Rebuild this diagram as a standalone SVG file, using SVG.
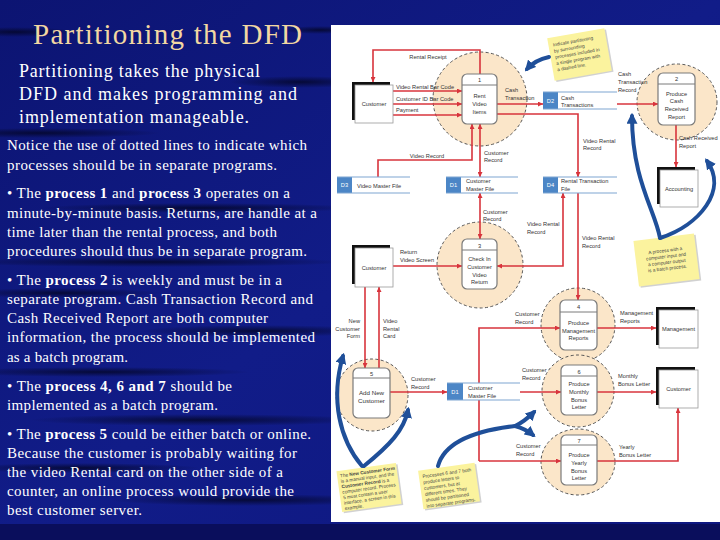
<svg xmlns="http://www.w3.org/2000/svg" width="720" height="540" viewBox="0 0 720 540">
<defs>
  <radialGradient id="streak">
    <stop offset="0" stop-color="#02041f" stop-opacity="0.75"/>
    <stop offset="1" stop-color="#02041f" stop-opacity="0"/>
  </radialGradient>
  <linearGradient id="bgGrad" x1="0" y1="0" x2="1" y2="1">
    <stop offset="0" stop-color="#0c1472"/>
    <stop offset="0.5" stop-color="#111c88"/>
    <stop offset="1" stop-color="#0e1780"/>
  </linearGradient>
  <marker id="ar" viewBox="0 0 10 10" refX="10" refY="5" markerWidth="6" markerHeight="5" markerUnits="userSpaceOnUse" orient="auto-start-reverse">
    <path d="M0,0 L10,5 L0,10 z" fill="#d8343c"/>
  </marker>
  <marker id="bar" viewBox="0 0 10 10" refX="7" refY="5" markerWidth="11" markerHeight="11" markerUnits="userSpaceOnUse" orient="auto">
    <path d="M0,0 L10,5 L0,10 z" fill="#1f4f99"/>
  </marker>
  <style>
    .title{font-family:"Liberation Serif","Times New Roman",serif;font-size:29px;fill:#f2d7a2}
    .sub{font-family:"Liberation Serif","Times New Roman",serif;font-size:18px;fill:#ffffff}
    .body{font-family:"Liberation Serif","Times New Roman",serif;font-size:15px;fill:#ffffff}
    .b{font-weight:bold}
    .part{fill:#fbe6c9;stroke:#555;stroke-width:1;stroke-dasharray:3 2.4}
    .proc{fill:#fff;stroke:#7a7a7a;stroke-width:1.2}
    .hdr{stroke:#7a7a7a;stroke-width:1}
    .lb{font-family:"Liberation Sans",Arial,sans-serif;font-size:5.7px;fill:#333}
    .mid{text-anchor:middle}
    .end{text-anchor:end}
    .conn{fill:none;stroke:#d8343c;stroke-width:1.6}
    .shadow{fill:#111}
    .ent{fill:#fff;stroke:#9a9a9a;stroke-width:0.8}
    .dsl{stroke:#7ea6d2;stroke-width:1.2}
    .dsid{fill:#4c86c6}
    .dst{font-family:"Liberation Sans",Arial,sans-serif;font-size:5.7px;fill:#fff}
    .note{fill:#fbf39e}
    .nsh{fill:#000;opacity:0.18}
    .nt{font-family:"Liberation Sans",Arial,sans-serif;font-size:4.7px;fill:#444}
    .blue{fill:none;stroke:#1f4f99;stroke-width:4;stroke-linecap:round}
  </style>
</defs>

<g id="background">
  <rect x="0" y="0" width="720" height="540" fill="url(#bgGrad)"/>
  <ellipse cx="15" cy="32" rx="60" ry="5" fill="url(#streak)"/>
  <ellipse cx="320" cy="30" rx="40" ry="4" fill="url(#streak)"/>
  <ellipse cx="300" cy="82" rx="70" ry="6" fill="url(#streak)"/>
  <ellipse cx="40" cy="133" rx="120" ry="5" fill="url(#streak)"/>
  <ellipse cx="200" cy="208" rx="160" ry="5" fill="url(#streak)"/>
  <ellipse cx="150" cy="262" rx="200" ry="5" fill="url(#streak)"/>
  <ellipse cx="60" cy="293" rx="100" ry="5" fill="url(#streak)"/>
  <ellipse cx="260" cy="331" rx="120" ry="6" fill="url(#streak)"/>
  <ellipse cx="100" cy="372" rx="150" ry="5" fill="url(#streak)"/>
  <ellipse cx="200" cy="420" rx="170" ry="6" fill="url(#streak)"/>
  <ellipse cx="80" cy="468" rx="120" ry="5" fill="url(#streak)"/>
  <ellipse cx="250" cy="500" rx="140" ry="6" fill="url(#streak)"/>
  <rect x="0" y="524" width="720" height="16" fill="#0a0e5c"/>
</g>

<g id="slide-text">
  <text class="title" x="33" y="44" textLength="269" lengthAdjust="spacing">Partitioning the DFD</text>
  <text class="sub" x="19" y="77" textLength="241" lengthAdjust="spacing">Partitioning takes the physical</text>
  <text class="sub" x="19" y="100" textLength="278" lengthAdjust="spacing">DFD and makes programming and</text>
  <text class="sub" x="19" y="123" textLength="230" lengthAdjust="spacing">implementation manageable.</text>
  <text class="body" x="7" y="150" textLength="300" lengthAdjust="spacing">Notice the use of dotted lines to indicate which</text>
  <text class="body" x="7" y="170" textLength="270" lengthAdjust="spacing">processes should be in separate  programs.</text>

  <text class="body" x="7" y="198" textLength="283" lengthAdjust="spacing">• The <tspan class="b">process 1</tspan> and <tspan class="b">process 3</tspan> operates on a</text>
  <text class="body" x="7" y="218" textLength="310" lengthAdjust="spacing">minute-by-minute basis. Returns, are handle at a</text>
  <text class="body" x="7" y="237" textLength="270" lengthAdjust="spacing">time later than the rental process, and both</text>
  <text class="body" x="7" y="256" textLength="300" lengthAdjust="spacing">procedures should thus be in separate program.</text>

  <text class="body" x="7" y="285" textLength="275" lengthAdjust="spacing">• The <tspan class="b">process 2</tspan> is weekly and must be in a</text>
  <text class="body" x="7" y="304" textLength="306" lengthAdjust="spacing">separate program. Cash Transaction Record and</text>
  <text class="body" x="7" y="323" textLength="261" lengthAdjust="spacing">Cash Received Report are both computer</text>
  <text class="body" x="7" y="342" textLength="308" lengthAdjust="spacing">information, the process should be implemented</text>
  <text class="body" x="7" y="362" textLength="121" lengthAdjust="spacing">as a batch program.</text>

  <text class="body" x="7" y="391" textLength="225" lengthAdjust="spacing">• The <tspan class="b">process 4, 6 and 7</tspan> should be</text>
  <text class="body" x="7" y="410" textLength="211" lengthAdjust="spacing">implemented as a batch program.</text>

  <text class="body" x="7" y="439" textLength="304" lengthAdjust="spacing">• The <tspan class="b">process 5</tspan> could be either batch or online.</text>
  <text class="body" x="7" y="458" textLength="290" lengthAdjust="spacing">Because the customer is probably waiting for</text>
  <text class="body" x="7" y="477" textLength="276" lengthAdjust="spacing">the video Rental card on the other side of a</text>
  <text class="body" x="7" y="496" textLength="287" lengthAdjust="spacing">counter, an online process would provide the</text>
  <text class="body" x="7" y="515" textLength="135" lengthAdjust="spacing">best customer server.</text>
</g>

<g id="panel">
  <rect x="331" y="25" width="389" height="497" fill="#ffffff"/>
</g>

<g id="partitions">
  <circle id="partition-1" class="part" cx="480" cy="99" r="47"/>
  <ellipse id="partition-2" class="part" cx="677" cy="102" rx="40" ry="38"/>
  <circle id="partition-3" class="part" cx="480" cy="265" r="43"/>
  <circle id="partition-4" class="part" cx="578" cy="325" r="37"/>
  <circle id="partition-5" class="part" cx="372" cy="395" r="36"/>
  <circle id="partition-6" class="part" cx="578" cy="391" r="36"/>
  <ellipse id="partition-7" class="part" cx="578" cy="462" rx="37" ry="33"/>
</g>

<g id="connectors">
  <path class="conn" d="M480,74 V50 H373 V82" marker-end="url(#ar)"/>
  <path class="conn" d="M393,91 H462" marker-end="url(#ar)"/>
  <path class="conn" d="M393,104 H462" marker-end="url(#ar)"/>
  <path class="conn" d="M393,115 H462" marker-end="url(#ar)"/>
  <path class="conn" d="M378,177 V160 H472 V124" marker-end="url(#ar)"/>
  <path class="conn" d="M480,124 V177" marker-start="url(#ar)" marker-end="url(#ar)"/>
  <path class="conn" d="M497,104 H543" marker-end="url(#ar)"/>
  <path class="conn" d="M497,114 H578 V177" marker-end="url(#ar)"/>
  <path class="conn" d="M617,104 H658" marker-end="url(#ar)"/>
  <path class="conn" d="M676,125 V167" marker-end="url(#ar)"/>
  <path class="conn" d="M480,193 V239" marker-start="url(#ar)" marker-end="url(#ar)"/>
  <path class="conn" d="M393,266 H462" marker-end="url(#ar)"/>
  <path class="conn" d="M497,266 H563 V193" marker-start="url(#ar)" marker-end="url(#ar)"/>
  <path class="conn" d="M578,193 V300" marker-end="url(#ar)"/>
  <path class="conn" d="M597,328 H656" marker-end="url(#ar)"/>
  <path class="conn" d="M479,461 V328 H560" marker-end="url(#ar)"/>
  <path class="conn" d="M479,461 H561" marker-end="url(#ar)"/>
  <path class="conn" d="M520,392 H561" marker-end="url(#ar)"/>
  <path class="conn" d="M390,392 H447" marker-end="url(#ar)"/>
  <path class="conn" d="M365,287 V368" marker-end="url(#ar)"/>
  <path class="conn" d="M379,368 V287" marker-end="url(#ar)"/>
  <path class="conn" d="M597,392 H656" marker-end="url(#ar)"/>
  <path class="conn" d="M597,461 H678 V408" marker-end="url(#ar)"/>
</g>

<g id="process-1">
  <rect class="proc" x="462" y="74" width="35" height="50" rx="5"/>
  <line class="hdr" x1="462" y1="85" x2="497" y2="85"/>
  <text class="lb mid" x="479.5" y="82">1</text>
  <text class="lb mid" x="479.5" y="98">Rent</text>
  <text class="lb mid" x="479.5" y="106">Video</text>
  <text class="lb mid" x="479.5" y="113.5">Items</text>
</g>
<g id="process-2">
  <rect class="proc" x="658" y="73" width="37" height="52" rx="5"/>
  <line class="hdr" x1="658" y1="84" x2="695" y2="84"/>
  <text class="lb mid" x="676.5" y="81">2</text>
  <text class="lb mid" x="676.5" y="95.5">Produce</text>
  <text class="lb mid" x="676.5" y="103">Cash</text>
  <text class="lb mid" x="676.5" y="111">Received</text>
  <text class="lb mid" x="676.5" y="119">Report</text>
</g>
<g id="process-3">
  <rect class="proc" x="462" y="239" width="35" height="50" rx="5"/>
  <line class="hdr" x1="462" y1="250" x2="497" y2="250"/>
  <text class="lb mid" x="479.5" y="248">3</text>
  <text class="lb mid" x="479.5" y="261">Check In</text>
  <text class="lb mid" x="479.5" y="269">Customer</text>
  <text class="lb mid" x="479.5" y="276.5">Video</text>
  <text class="lb mid" x="479.5" y="284">Return</text>
</g>
<g id="process-4">
  <rect class="proc" x="560" y="300" width="37" height="50" rx="5"/>
  <line class="hdr" x1="560" y1="312" x2="597" y2="312"/>
  <text class="lb mid" x="578.5" y="308.5">4</text>
  <text class="lb mid" x="578.5" y="325">Produce</text>
  <text class="lb mid" x="578.5" y="332.5">Management</text>
  <text class="lb mid" x="578.5" y="340">Reports</text>
</g>
<g id="process-5">
  <rect class="proc" x="353" y="368" width="37" height="50" rx="5"/>
  <line class="hdr" x1="353" y1="378" x2="390" y2="378"/>
  <text class="lb mid" x="371.5" y="375.5">5</text>
  <text class="lb mid" x="371.5" y="395" style="font-size:6.2px">Add New</text>
  <text class="lb mid" x="371.5" y="403" style="font-size:6.2px">Customer</text>
</g>
<g id="process-6">
  <rect class="proc" x="561" y="365" width="36" height="50" rx="5"/>
  <line class="hdr" x1="561" y1="376" x2="597" y2="376"/>
  <text class="lb mid" x="579" y="373.5">6</text>
  <text class="lb mid" x="579" y="386">Produce</text>
  <text class="lb mid" x="579" y="394">Monthly</text>
  <text class="lb mid" x="579" y="401.5">Bonus</text>
  <text class="lb mid" x="579" y="409">Letter</text>
</g>
<g id="process-7">
  <rect class="proc" x="561" y="435" width="36" height="50" rx="5"/>
  <line class="hdr" x1="561" y1="445" x2="597" y2="445"/>
  <text class="lb mid" x="579" y="442.5">7</text>
  <text class="lb mid" x="579" y="457">Produce</text>
  <text class="lb mid" x="579" y="465">Yearly</text>
  <text class="lb mid" x="579" y="472.5">Bonus</text>
  <text class="lb mid" x="579" y="480">Letter</text>
</g>

<g id="store-D3">
  <rect x="337" y="177" width="73" height="16" fill="#fff"/>
  <rect class="dsid" x="337" y="177" width="15" height="16"/>
  <line class="dsl" x1="337" y1="177" x2="410" y2="177"/>
  <line class="dsl" x1="337" y1="193" x2="410" y2="193"/>
  <text class="dst mid" x="344.5" y="187">D3</text>
  <text class="lb" x="357" y="187.5">Video Master File</text>
</g>
<g id="store-D1-top">
  <rect x="446" y="177" width="72" height="16" fill="#fff"/>
  <rect class="dsid" x="446" y="177" width="15" height="16"/>
  <line class="dsl" x1="446" y1="177" x2="518" y2="177"/>
  <line class="dsl" x1="446" y1="193" x2="518" y2="193"/>
  <text class="dst mid" x="453.5" y="187">D1</text>
  <text class="lb" x="466" y="183">Customer</text>
  <text class="lb" x="466" y="190.5">Master File</text>
</g>
<g id="store-D2">
  <rect x="543" y="92" width="74" height="17" fill="#fff"/>
  <rect class="dsid" x="543" y="92" width="15" height="17"/>
  <line class="dsl" x1="543" y1="92" x2="617" y2="92"/>
  <line class="dsl" x1="543" y1="109" x2="617" y2="109"/>
  <text class="dst mid" x="550.5" y="102.5">D2</text>
  <text class="lb" x="561" y="99.5">Cash</text>
  <text class="lb" x="561" y="107">Transactions</text>
</g>
<g id="store-D4">
  <rect x="543" y="177" width="74" height="16" fill="#fff"/>
  <rect class="dsid" x="543" y="177" width="15" height="16"/>
  <line class="dsl" x1="543" y1="177" x2="617" y2="177"/>
  <line class="dsl" x1="543" y1="193" x2="617" y2="193"/>
  <text class="dst mid" x="550.5" y="187">D4</text>
  <text class="lb" x="561" y="183">Rental Transaction</text>
  <text class="lb" x="561" y="190.5">File</text>
</g>
<g id="store-D1-bottom">
  <rect x="447" y="383" width="73" height="17" fill="#fff"/>
  <rect class="dsid" x="447" y="383" width="16" height="17"/>
  <line class="dsl" x1="447" y1="383" x2="520" y2="383"/>
  <line class="dsl" x1="447" y1="400" x2="520" y2="400"/>
  <text class="dst mid" x="455" y="393.5">D1</text>
  <text class="lb" x="468" y="390">Customer</text>
  <text class="lb" x="468" y="397.5">Master File</text>
</g>

<g id="entity-customer-1">
  <rect class="shadow" x="352" y="82" width="38" height="38"/>
  <rect class="ent" x="355" y="85" width="38" height="38"/>
  <text class="lb mid" x="374" y="106">Customer</text>
</g>
<g id="entity-customer-2">
  <rect class="shadow" x="352" y="245" width="38" height="39"/>
  <rect class="ent" x="355" y="248" width="38" height="39"/>
  <text class="lb mid" x="374" y="270">Customer</text>
</g>
<g id="entity-accounting">
  <rect class="shadow" x="657" y="167" width="38" height="37"/>
  <rect class="ent" x="660" y="170" width="38" height="37"/>
  <text class="lb mid" x="679" y="191">Accounting</text>
</g>
<g id="entity-management">
  <rect class="shadow" x="656" y="307" width="39" height="38"/>
  <rect class="ent" x="659" y="310" width="39" height="38"/>
  <text class="lb mid" x="678.5" y="331">Management</text>
</g>
<g id="entity-customer-3">
  <rect class="shadow" x="656" y="367" width="39" height="38"/>
  <rect class="ent" x="659" y="370" width="39" height="38"/>
  <text class="lb mid" x="678.5" y="391">Customer</text>
</g>

<g id="connector-labels">
  <text class="lb mid" x="428" y="59">Rental Receipt</text>
  <text class="lb" x="396" y="88.5">Video Rental Bar Code</text>
  <text class="lb" x="396" y="101">Customer ID Bar Code</text>
  <text class="lb" x="396" y="112">Payment</text>
  <text class="lb mid" x="427" y="158">Video Record</text>
  <text class="lb" x="484" y="155">Customer</text>
  <text class="lb" x="484" y="162">Record</text>
  <text class="lb" x="505" y="92">Cash</text>
  <text class="lb" x="505" y="100">Transaction</text>
  <text class="lb" x="583" y="143">Video Rental</text>
  <text class="lb" x="583" y="150">Record</text>
  <text class="lb" x="618" y="76">Cash</text>
  <text class="lb" x="618" y="84">Transaction</text>
  <text class="lb" x="618" y="92">Record</text>
  <text class="lb" x="679" y="140">Cash Received</text>
  <text class="lb" x="679" y="148">Report</text>
  <text class="lb" x="483" y="214">Customer</text>
  <text class="lb" x="483" y="221">Record</text>
  <text class="lb" x="400" y="254">Return</text>
  <text class="lb" x="400" y="262">Video Screen</text>
  <text class="lb" x="527" y="226">Video Rental</text>
  <text class="lb" x="527" y="234">Record</text>
  <text class="lb" x="582" y="240">Video Rental</text>
  <text class="lb" x="582" y="248">Record</text>
  <text class="lb" x="620" y="315">Management</text>
  <text class="lb" x="620" y="323">Reports</text>
  <text class="lb" x="515" y="316">Customer</text>
  <text class="lb" x="515" y="324">Record</text>
  <text class="lb end" x="360" y="323">New</text>
  <text class="lb end" x="360" y="330.5">Customer</text>
  <text class="lb end" x="360" y="338">Form</text>
  <text class="lb" x="383" y="323">Video</text>
  <text class="lb" x="383" y="330.5">Rental</text>
  <text class="lb" x="383" y="338">Card</text>
  <text class="lb" x="411" y="381">Customer</text>
  <text class="lb" x="411" y="389">Record</text>
  <text class="lb" x="522" y="372">Customer</text>
  <text class="lb" x="522" y="380">Record</text>
  <text class="lb" x="618" y="378">Monthly</text>
  <text class="lb" x="618" y="386">Bonus Letter</text>
  <text class="lb" x="516" y="448">Customer</text>
  <text class="lb" x="516" y="456">Record</text>
  <text class="lb" x="619" y="449">Yearly</text>
  <text class="lb" x="619" y="456.5">Bonus Letter</text>
</g>

<g id="note-partitioning" transform="rotate(-10 579.5 54.5)">
  <rect class="nsh" x="552" y="34.5" width="58" height="43"/>
  <rect class="note" x="550.5" y="33" width="58" height="43"/>
  <text class="nt" x="555" y="42">Indicate partitioning</text>
  <text class="nt" x="555" y="48.3">by surrounding</text>
  <text class="nt" x="555" y="54.6">processes included in</text>
  <text class="nt" x="555" y="60.9">a single program with</text>
  <text class="nt" x="555" y="67.2">a dashed line.</text>
</g>
<g id="note-batch" transform="rotate(-7 666.5 260)">
  <rect class="nsh" x="637.5" y="238.5" width="61" height="46"/>
  <rect class="note" x="636" y="237" width="61" height="46"/>
  <text class="nt mid" x="666.5" y="252">A process with a</text>
  <text class="nt mid" x="666.5" y="258">computer input and</text>
  <text class="nt mid" x="666.5" y="264">a computer output</text>
  <text class="nt mid" x="666.5" y="270">is a batch process.</text>
</g>
<g id="note-new-customer" transform="rotate(-8 369 487.5)">
  <rect class="nsh" x="340.5" y="468.5" width="60" height="41"/>
  <rect class="note" x="339" y="467" width="60" height="41"/>
  <text class="nt" x="342" y="473.5">The <tspan class="b">New Customer Form</tspan></text>
  <text class="nt" x="342" y="479">is a manual input, and the</text>
  <text class="nt" x="342" y="484.5"><tspan class="b">Customer Record</tspan> is a</text>
  <text class="nt" x="342" y="490">computer record. Process</text>
  <text class="nt" x="342" y="495.5">5 must contain a user</text>
  <text class="nt" x="342" y="501">interface, a screen in this</text>
  <text class="nt" x="342" y="506.5">example.</text>
</g>
<g id="note-letters" transform="rotate(-8 449 486)">
  <rect class="nsh" x="422" y="468" width="57" height="39"/>
  <rect class="note" x="420.5" y="466.5" width="57" height="39"/>
  <text class="nt" x="424" y="474.5">Processes 6 and 7 both</text>
  <text class="nt" x="424" y="480.5">produce letters to</text>
  <text class="nt" x="424" y="486.5">customers, but at</text>
  <text class="nt" x="424" y="492.5">different times. They</text>
  <text class="nt" x="424" y="498.5">should be partitioned</text>
  <text class="nt" x="424" y="504.5">into separate programs.</text>
</g>

<g id="annotation-arrows">
  <path class="blue" d="M549,57 Q535,60 527,69" marker-end="url(#bar)"/>
  <path class="blue" d="M660,238 C655,210 632,180 632,116" marker-end="url(#bar)"/>
  <path class="blue" d="M660,238 C700,225 728,190 707,161" marker-end="url(#bar)"/>
  <path class="blue" d="M362,466 C340,440 330,400 343,356" marker-end="url(#bar)"/>
  <path class="blue" d="M364,466 C390,445 404,430 408,410" marker-end="url(#bar)"/>
  <path class="blue" d="M438,466 C445,440 480,430 515,426 C524,422 529,417 534,412" marker-end="url(#bar)"/>
  <path class="blue" d="M515,426 C522,428 528,431 533,435" marker-end="url(#bar)"/>
</g>
</svg>
